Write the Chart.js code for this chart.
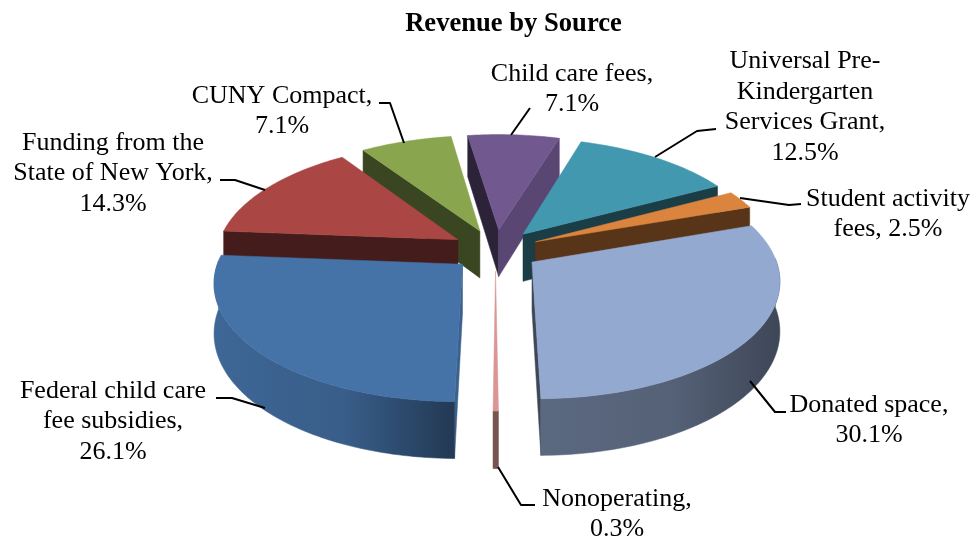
<!DOCTYPE html>
<html><head><meta charset="utf-8">
<style>html,body{margin:0;padding:0;background:#fff}canvas{display:block}</style>
<script src="https://cdn.jsdelivr.net/npm/chart.js@4"></script>
</head><body>
<canvas id="c" width="972" height="537"></canvas>
<script>
const categories = ["Child care fees","Universal Pre-Kindergarten Services Grant","Student activity fees","Donated space","Nonoperating","Federal child care fee subsidies","Funding from the State of New York","CUNY Compact"];
const values = [7.1,12.5,2.5,30.1,0.3,26.1,14.3,7.1];
const colors = ["#71588f","#4198af","#db843d","#93a9cf","#d99694","#4572a7","#aa4643","#89a54e"];
const labelLines = [
  ["Child care fees,","7.1%"],
  ["Universal Pre-","Kindergarten","Services Grant,","12.5%"],
  ["Student activity","fees, 2.5%"],
  ["Donated space,","30.1%"],
  ["Nonoperating,","0.3%"],
  ["Federal child care","fee subsidies,","26.1%"],
  ["Funding from the","State of New York,","14.3%"],
  ["CUNY Compact,","7.1%"]
];
// label layout: centre x, first line centre y
const labelPos = [[572,74],[805,61.5],[888,199],[869,405],[617,499],[113,391],[113,143],[282,96]];
const leaders = [
  [[511,135],[530,108]],
  [[655,157],[697,131],[716,129]],
  [[740,198],[789,205],[801,204]],
  [[750,381],[775,412],[786,412]],
  [[498,467],[521,505],[535,505]],
  [[265,408],[232,398],[216,398]],
  [[265,190],[235,180],[220,180]],
  [[404,143],[390,103],[379,103]]
];
const startShade = [0.4,0.4,0.4,0.4,0.55,0.85,0.4,0.42];
const endShade   = [0.8,0.4,0.4,0.42,0.55,0.6,0.4,0.42];
const outerLeft  = [0.6,0.6,0.6,0.62,0.55,0.9,0.6,0.6];
const outerRight = [0.6,0.6,0.6,0.42,0.55,0.5,0.6,0.6];

const VIEW = {shiftX:-18, persp:0.00058, tilt:0.472, depth:48};

function shade(hex,f){
  const n=parseInt(hex.slice(1),16);
  return `rgb(${Math.round((n>>16&255)*f)},${Math.round((n>>8&255)*f)},${Math.round((n&255)*f)})`;
}
function projector(el){
  const cx=el.x+VIEW.shiftX, cy=el.y;
  return (X,Y,Z)=>{const s=1/(1-VIEW.persp*Y);return [cx+X*s, cy+(VIEW.tilt*Y+Z)*s];};
}
function poly(ctx,pts,fill){
  ctx.beginPath();pts.forEach((p,i)=>i?ctx.lineTo(p[0],p[1]):ctx.moveTo(p[0],p[1]));ctx.closePath();
  ctx.fillStyle=fill;ctx.fill();ctx.strokeStyle=fill;ctx.lineWidth=0.5;ctx.stroke();
}
function arcPts(el,from,to){
  const e=el.options.offset,mid=(el.startAngle+el.endAngle)/2;
  const ax=Math.cos(mid)*e, ay=Math.sin(mid)*e, r=el.outerRadius, out=[];
  const n=Math.max(2,Math.ceil((to-from)/0.02));
  for(let i=0;i<=n;i++){const a=from+(to-from)*i/n;out.push([ax+Math.cos(a)*r,ay+Math.sin(a)*r]);}
  return {apex:[ax,ay],pts:out};
}
const pie3d={
  id:'pie3d',
  beforeDatasetDraw(chart,args){
    const ctx=chart.ctx, arcs=chart.getDatasetMeta(0).data;
    const order=arcs.map((el,i)=>i).sort((p,q)=>{
      return Math.sin((arcs[p].startAngle+arcs[p].endAngle)/2)-Math.sin((arcs[q].startAngle+arcs[q].endAngle)/2);
    });
    for(const i of order){
      const el=arcs[i],P=projector(el),h=VIEW.depth,c=el.options.backgroundColor;
      const {apex,pts}=arcPts(el,el.startAngle,el.endAngle);
      const first=pts[0],last=pts[pts.length-1];
      if(Math.cos(el.startAngle)<0) poly(ctx,[P(apex[0],apex[1],0),P(first[0],first[1],0),P(first[0],first[1],h),P(apex[0],apex[1],h)],shade(c,startShade[i]));
      if(Math.cos(el.endAngle)>0) poly(ctx,[P(apex[0],apex[1],0),P(last[0],last[1],0),P(last[0],last[1],h),P(apex[0],apex[1],h)],shade(c,endShade[i]));
      // outer wall, front half only
      const twoPi=Math.PI*2;
      let s=el.startAngle,t=el.endAngle;
      for(const k of [-1,0,1]){
        const from=Math.max(s,k*twoPi-0.03),to=Math.min(t,k*twoPi+Math.PI+0.03);
        if(to<=from) continue;
        const w=arcPts(el,from,to).pts;
        const top=w.map(p=>P(p[0],p[1],0)),bot=w.map(p=>P(p[0],p[1],h)).reverse();
        const xs=top.map(p=>p[0]);
        const g=ctx.createLinearGradient(Math.min(...xs),0,Math.max(...xs)+0.01,0);
        // colours run left to right on screen, holding the lighter tone longer
        g.addColorStop(0,shade(c,outerLeft[i]));
        g.addColorStop(0.55,shade(c,outerLeft[i]*0.78+outerRight[i]*0.22));
        g.addColorStop(1,shade(c,outerRight[i]));
        poly(ctx,top.concat(bot),g);
      }
    }
    for(const i of order){
      const el=arcs[i],P=projector(el);
      const {apex,pts}=arcPts(el,el.startAngle,el.endAngle);
      poly(ctx,[P(apex[0],apex[1],0)].concat(pts.map(p=>P(p[0],p[1],0))),el.options.backgroundColor);
    }
    return false;
  },
  afterDatasetsDraw(chart){
    const ctx=chart.ctx;
    ctx.save();
    ctx.strokeStyle='#000';ctx.lineWidth=2;ctx.lineJoin='round';
    leaders.forEach(l=>{ctx.beginPath();l.forEach((p,i)=>i?ctx.lineTo(p[0],p[1]):ctx.moveTo(p[0],p[1]));ctx.stroke();});
    ctx.fillStyle='#000';ctx.font='26px "Liberation Serif"';ctx.textAlign='center';ctx.textBaseline='middle';
    labelLines.forEach((ls,i)=>ls.forEach((t,j)=>ctx.fillText(t,labelPos[i][0],labelPos[i][1]+j*30.4)));
    ctx.restore();
  }
};
new Chart(document.getElementById('c'),{
  type:'pie',
  data:{labels:categories,datasets:[{data:values,backgroundColor:colors,borderWidth:0,offset:44}]},
  options:{
    responsive:false,animation:false,
    rotation:-8.5,radius:241,
    layout:{padding:{left:55,right:0,top:0,bottom:77}},
    plugins:{
      legend:{display:false},tooltip:{enabled:false},
      title:{display:true,text:"Revenue by Source",color:'#000',padding:{top:8,bottom:0},
        font:{family:'"Liberation Serif"',size:26.6,weight:'bold'}}
    }
  },
  plugins:[pie3d]
});
</script>
</body></html>
